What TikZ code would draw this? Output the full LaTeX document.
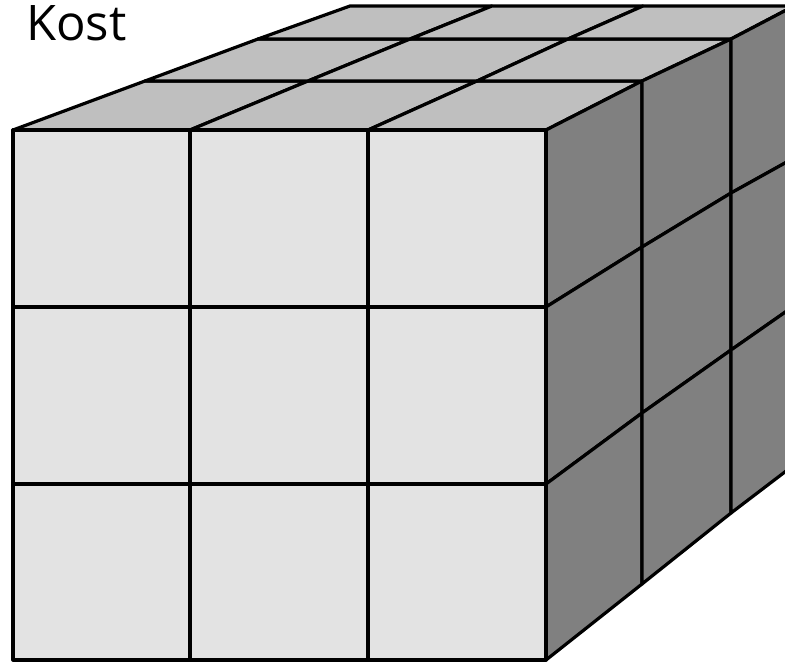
\documentclass[tikz,border=0pt]{standalone}
\usepackage{fontspec}
\setmainfont{Open Sans}
\tikzset{
 cell/.style={draw=black,line width=3.2pt,line join=round},
 frontcell/.style={cell,fill=front},
 topcell/.style={cell,fill=topc},
 sidecell/.style={cell,fill=sidec},
 lbl/.style={inner sep=0pt,anchor=base west,font=\fontsize{49}{49}\selectfont}
}
\definecolor{front}{gray}{0.89}
\definecolor{topc}{gray}{0.75}
\definecolor{sidec}{gray}{0.5}
\begin{document}
\begin{tikzpicture}[x=1pt,y=-1pt]
\useasboundingbox (0,0) rectangle (785,662);
\clip (0,0) rectangle (785,662);
% top face grid
\foreach \a/\b/\c/\d/\e/\f/\g/\h in {
 13/130/190/130/308/81/145/81,
 190/130/368/130/477/81/308/81,
 368/130/546/130/642/81/477/81,
 145/81/308/81/410/39/258/39,
 308/81/477/81/568/39/410/39,
 477/81/642/81/731/39/568/39,
 258/39/410/39/492/6/350/6,
 410/39/568/39/643/6/492/6,
 568/39/731/39/794/6/643/6}
 \draw[topcell] (\a,\b) -- (\c,\d) -- (\e,\f) -- (\g,\h) -- cycle;
% right face grid
\foreach \a/\b/\c/\d/\e/\f/\g/\h in {
 546/130/642/81/642/247/546/307,
 642/81/731/39/731/193/642/247,
 731/39/794/6/794/158/731/193,
 546/307/642/247/642/413/546/484,
 642/247/731/193/731/350/642/413,
 731/193/794/158/794/306/731/350,
 546/484/642/413/642/584/546/660,
 642/413/731/350/731/513/642/584,
 731/350/794/306/794/465/731/513}
 \draw[sidecell] (\a,\b) -- (\c,\d) -- (\e,\f) -- (\g,\h) -- cycle;
% front face grid
\foreach \xa/\xb in {13/190,190/368,368/546}
 \foreach \ya/\yb in {130/307,307/484,484/660}
  \draw[frontcell] (\xa,\ya) rectangle (\xb,\yb);
\node[lbl] (kost) at (26,40) {Kost};
\end{tikzpicture}
\end{document}
